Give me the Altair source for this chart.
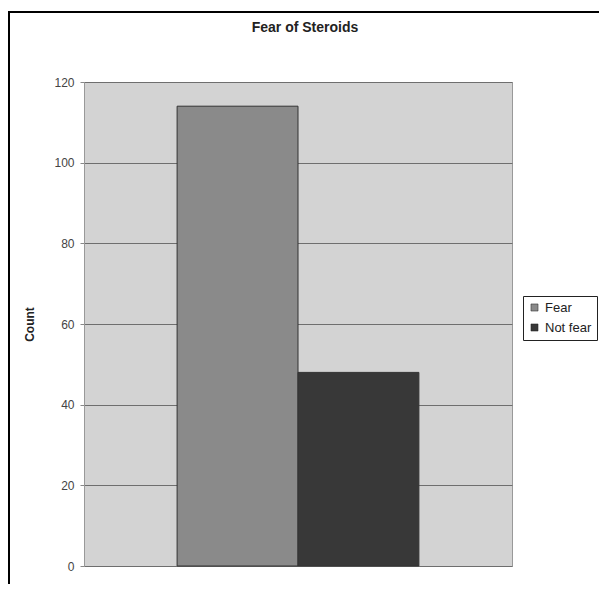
import altair as alt
import pandas as pd

categories = ["Fear", "Not fear"]
counts = [114, 48]
bar_colors = ["#8a8a8a", "#383838"]

df = pd.DataFrame({"Response": categories, "Count": counts})

bars = alt.Chart(df).mark_bar(stroke="#333333", strokeWidth=1).encode(
    x=alt.X("Response:N", sort=categories, axis=None,
            scale=alt.Scale(paddingInner=0, paddingOuter=0.77)),
    y=alt.Y("Count:Q",
            scale=alt.Scale(domain=[0, 120]),
            axis=alt.Axis(values=[0, 20, 40, 60, 80, 100, 120], title="Count",
                          titleFont="Liberation Sans", titleFontSize=12, titleFontWeight="bold",
                          titleColor="#222222", titlePadding=17,
                          labelFont="Liberation Sans", labelFontSize=12, labelColor="#444444",
                          labelPadding=6, tickSize=4, tickColor="#888888",
                          domainColor="#999999", gridColor="#6e6e6e", gridWidth=1)),
    color=alt.Color("Response:N", sort=categories,
                    scale=alt.Scale(domain=categories, range=bar_colors),
                    legend=alt.Legend(title=None, orient="none", legendX=439, legendY=214,
                                      symbolType="square", symbolSize=50,
                                      symbolStrokeColor="#222222", symbolStrokeWidth=0.5,
                                      labelFont="Liberation Sans", labelFontSize=13,
                                      labelColor="#222222", labelOffset=4,
                                      strokeColor="#222222", fillColor="white",
                                      padding=5, rowPadding=6)),
)

frame = alt.Chart(df).mark_rect(fill=None, stroke="black", strokeWidth=2, clip=False).encode(
    x=alt.value(-75), x2=alt.value(620), y=alt.value(-70), y2=alt.value(620)
)

chart = alt.layer(bars, frame).properties(
    width=428, height=484,
    background="white",
    title=alt.TitleParams("Fear of Steroids", font="Liberation Sans", fontSize=14,
                          fontWeight="bold", color="#222222", offset=-24, dx=7),
    autosize=alt.AutoSizeParams(type="none"),
    padding={"left": 76, "top": 74, "right": 87, "bottom": 18},
).configure_view(fill="#d3d3d3", stroke="#999999")

chart.save("out.html", embed_options={"renderer": "svg", "actions": False})
